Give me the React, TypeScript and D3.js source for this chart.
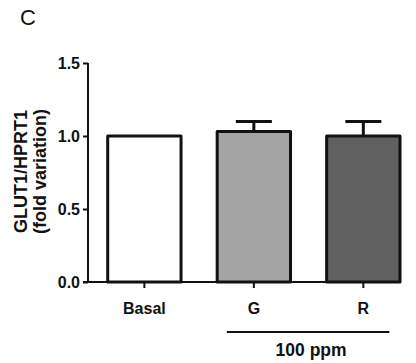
import { useEffect, useRef } from "react";
import * as d3 from "d3";

const categories = ["Basal", "G", "R"];
const means = [1.0, 1.03, 1.0];
const errors = [0, 0.07, 0.1];
const fills = ["#ffffff", "#a3a3a3", "#606060"];
const yTicks = [0.0, 0.5, 1.0, 1.5];
const groupLabel = "100 ppm";
const groupMembers = ["G", "R"];

export default function App() {
  const ref = useRef<SVGSVGElement>(null);

  useEffect(() => {
    if (!ref.current) return;
    const svg = d3.select(ref.current);
    svg.selectAll("*").remove();

    const width = 416;
    const height = 363;
    const axisX = 88;
    const font = "'Liberation Sans', Arial, sans-serif";

    const x = d3.scaleBand<string>()
      .domain(categories)
      .range([axisX, 400])
      .paddingInner(0.33)
      .paddingOuter(0.09)
      .align(1);

    const y = d3.scaleLinear().domain([0, 1.5]).range([282, 63]);

    svg.attr("width", width).attr("height", height);
    svg.append("rect").attr("width", width).attr("height", height).attr("fill", "#fff");

    // panel letter
    svg.append("text")
      .attr("x", 20).attr("y", 25)
      .attr("font-family", font).attr("font-size", 22)
      .attr("fill", "#111")
      .text("C");

    // bars
    const data = categories.map((c, i) => ({ c, m: means[i], e: errors[i], f: fills[i] }));
    const g = svg.append("g");

    g.selectAll("rect.bar")
      .data(data)
      .join("rect")
      .attr("class", "bar")
      .attr("x", d => x(d.c)!)
      .attr("y", d => y(d.m))
      .attr("width", x.bandwidth())
      .attr("height", d => y(0) - y(d.m))
      .attr("fill", d => d.f)
      .attr("stroke", "#111")
      .attr("stroke-width", 3)
      .attr("stroke-linejoin", "round");

    // error bars (upper only)
    const capW = 36;
    const eb = g.selectAll("g.err").data(data.filter(d => d.e > 0)).join("g").attr("class", "err");
    eb.append("line")
      .attr("x1", d => x(d.c)! + x.bandwidth() / 2)
      .attr("x2", d => x(d.c)! + x.bandwidth() / 2)
      .attr("y1", d => y(d.m))
      .attr("y2", d => y(d.m + d.e))
      .attr("stroke", "#111").attr("stroke-width", 3);
    eb.append("line")
      .attr("x1", d => x(d.c)! + x.bandwidth() / 2 - capW / 2)
      .attr("x2", d => x(d.c)! + x.bandwidth() / 2 + capW / 2)
      .attr("y1", d => y(d.m + d.e))
      .attr("y2", d => y(d.m + d.e))
      .attr("stroke", "#111").attr("stroke-width", 3);

    // y axis
    const yAxis = d3.axisLeft(y)
      .tickValues(yTicks)
      .tickFormat(d3.format(".1f"))
      .tickSize(5)
      .tickPadding(3);
    const ya = svg.append("g").attr("transform", `translate(${axisX},0)`).call(yAxis);
    ya.select(".domain").attr("stroke", "#111").attr("stroke-width", 2).attr("d", `M0,${y(1.5)}V${y(0)}`);
    ya.selectAll(".tick line").attr("stroke", "#111").attr("stroke-width", 2);
    ya.selectAll(".tick text")
      .attr("font-family", font).attr("font-size", 16).attr("font-weight", "bold").attr("fill", "#111");

    // x axis
    const xAxis = d3.axisBottom(x).tickSize(6).tickPadding(15);
    const xa = svg.append("g").attr("transform", `translate(0,${y(0)})`).call(xAxis);
    xa.select(".domain").attr("stroke", "#111").attr("stroke-width", 2).attr("d", `M${axisX - 5},0H400`);
    xa.selectAll(".tick line").attr("stroke", "#111").attr("stroke-width", 2);
    xa.selectAll(".tick text")
      .attr("font-family", font).attr("font-size", 16).attr("font-weight", "bold").attr("fill", "#111");

    // group bracket
    const gx0 = x(groupMembers[0])! + x.bandwidth() / 2 - 27;
    const gx1 = x(groupMembers[groupMembers.length - 1])! + x.bandwidth() / 2 + 26;
    svg.append("line")
      .attr("x1", gx0).attr("x2", gx1).attr("y1", 332).attr("y2", 332)
      .attr("stroke", "#111").attr("stroke-width", 2);
    svg.append("text")
      .attr("x", (gx0 + gx1) / 2 + 3).attr("y", 356)
      .attr("text-anchor", "middle")
      .attr("font-family", font).attr("font-size", 17.5).attr("font-weight", "bold").attr("fill", "#111")
      .text(groupLabel);

    // y axis title
    const title = svg.append("text")
      .attr("transform", `translate(27,${(y(0) + y(1.5)) / 2 - 1}) rotate(-90)`)
      .attr("text-anchor", "middle")
      .attr("font-family", font).attr("font-size", 18).attr("font-weight", "bold").attr("fill", "#111");
    title.append("tspan").attr("x", 0).attr("y", 0).text("GLUT1/HPRT1");
    title.append("tspan").attr("x", 0).attr("y", 19).text("(fold variation)");
  }, []);

  return (
    <svg ref={ref} style={{ position: "absolute", left: 0, top: 0 }} />
  );
}
